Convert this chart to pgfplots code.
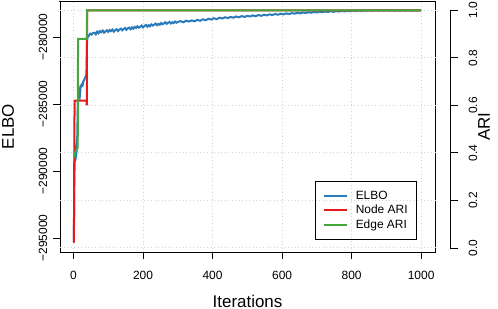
\documentclass[border=0pt]{standalone}
\usepackage{pgfplots}
\pgfplotsset{compat=1.18}
\usepackage{fontspec}
\setmainfont{Liberation Sans}
\definecolor{cblue}{HTML}{2B7BBA}
\definecolor{cred}{HTML}{E41A1C}
\definecolor{cgreen}{HTML}{43A63F}
\definecolor{cgrid}{HTML}{D3D3D3}
\begin{document}
\begin{tikzpicture}
\path[use as bounding box] (-60bp,-57bp) rectangle (438bp,252bp);
\begin{axis}[
  scale only axis, width=375bp, height=251bp,
  xmin=-38.96, xmax=1039.96,
  ymin=-296045, ymax=-277314,
  axis line style={line width=0.8bp},
  tick align=outside, major tick length=7bp,
  xtick pos=bottom, ytick pos=left,
  xtick={0,200,400,600,800,1000},
  ytick={-295000,-290000,-285000,-280000},
  yticklabels={−295000,−290000,−285000,−280000},
  /pgf/number format/assume math mode=true,
  /pgf/number format/1000 sep={},
  tick label style={font=\fontsize{12}{14}\selectfont},
  yticklabel style={rotate=90, anchor=center, yshift=10bp},
  xticklabel style={anchor=center, yshift=-16bp},
  major tick style={line width=0.8bp, black},
  xmajorgrids,
  grid style={cgrid, line width=0.9bp, dash pattern=on 1bp off 2.5bp},
  xlabel={Iterations}, ylabel={ELBO},
  label style={font=\fontsize{17}{20}\selectfont},
  xlabel style={at={(axis description cs:0.5,-0.1952)}, anchor=center},
  ylabel style={at={(axis description cs:-0.1387,0.5)}, anchor=center},
]
\addplot[cblue, line width=2bp] coordinates {
(1,-295350)(2,-291200)(3,-289600)(4,-289000)(5,-288700)(6,-288500)(7,-288650)(8,-288300)(9,-288450)(10,-288200)
(11,-287000)(12,-285500)(13,-284700)(14,-284400)(15,-284200)(16,-284300)(17,-284000)(18,-283900)(19,-284100)(20,-283800)
(22,-283700)(24,-283550)(26,-283600)(28,-283300)(30,-283250)(32,-283100)(34,-283000)(36,-282900)(37,-282800)(38,-281500)(39,-280300)(40,-280050)
(44,-279900)(48,-279750)(52,-279820)(56,-279700)(60,-279680)(64,-279800)(68,-279600)(72,-279720)(76,-279560)(80,-279640)
(84,-279520)(88,-279680)(92,-279580)(96,-279500)(100,-279620)(104,-279480)(108,-279560)(112,-279450)(116,-279600)(120,-279500)
(124,-279420)(128,-279560)(132,-279450)(136,-279380)(140,-279500)(144,-279400)(148,-279330)(152,-279460)(156,-279350)(160,-279300)
(164,-279420)(168,-279280)(172,-279380)(176,-279250)(180,-279330)(184,-279200)(188,-279300)(192,-279240)(196,-279150)(200,-279280)
(204,-279180)(208,-279100)(212,-279230)(216,-279120)(220,-279200)(224,-279060)(228,-279150)(232,-279080)(236,-279000)(240,-279120)
(244,-279020)(248,-279090)(252,-278960)(256,-279050)(260,-278980)(264,-278900)(268,-279020)(272,-278940)(276,-278880)(280,-278990)
(284,-278900)(288,-278960)(292,-278850)(296,-278930)(300,-278870)
(308,-278820)(316,-278900)(324,-278780)(332,-278850)(340,-278760)(348,-278830)(356,-278720)(364,-278790)(372,-278680)(380,-278750)
(388,-278640)(396,-278700)(404,-278600)(412,-278670)(420,-278560)(428,-278620)(436,-278530)(444,-278590)(452,-278500)(460,-278560)
(468,-278470)(476,-278530)(484,-278440)(492,-278500)(500,-278420)(508,-278470)(516,-278390)(524,-278450)(532,-278360)(540,-278420)
(548,-278340)(556,-278390)(564,-278310)(572,-278360)(580,-278280)(588,-278340)(596,-278260)(604,-278310)(612,-278240)(620,-278290)
(628,-278220)(636,-278260)(644,-278190)(652,-278240)(660,-278170)(668,-278210)(676,-278150)(684,-278190)(692,-278130)(700,-278170)
(708,-278110)(716,-278150)(724,-278100)(732,-278130)(740,-278080)(748,-278120)(756,-278070)(764,-278100)(772,-278050)(780,-278090)
(788,-278040)(796,-278070)(804,-278030)(812,-278060)(820,-278020)(828,-278050)(836,-278020)(844,-278040)(852,-278010)(860,-278040)
(868,-278010)(876,-278030)(884,-278010)(892,-278030)(900,-278008)(908,-278030)(916,-278010)(924,-278040)(932,-278010)(940,-278030)
(948,-278012)(956,-278030)(964,-278010)(972,-278040)(980,-278015)(988,-278030)(996,-278010)(1000,-278020)
};
\end{axis}
\begin{axis}[
  scale only axis, width=375bp, height=251bp,
  xmin=-38.96, xmax=1039.96,
  ymin=-0.0171, ymax=1.0391,
  clip=false,
  axis x line=none, axis y line*=right,
  y axis line style={draw=none},
  major tick style={draw=none},
  ytick={0,0.2,0.4,0.6,0.8,1.0},
  yticklabels={0.0,0.2,0.4,0.6,0.8,1.0},
  tick label style={font=\fontsize{12}{14}\selectfont},
  yticklabel style={rotate=90, anchor=center, yshift=-38bp},
  ymajorgrids,
  grid style={cgrid, line width=0.9bp, dash pattern=on 1bp off 2.5bp},
  ylabel={ARI},
  label style={font=\fontsize{17}{20}\selectfont},
  ylabel style={at={(axis description cs:1.1307,0.5)}, anchor=center},
  legend image code/.code={\draw[#1, line width=2bp] (0bp,0bp) -- (23bp,0bp);},
  legend style={at={(axis description cs:0.952,0.048)}, anchor=south east,
    fill=none, draw=black, line width=0.8bp, inner xsep=7bp, inner ysep=7.5bp,
    font=\fontsize{12}{14}\selectfont, row sep=0bp,
    nodes={inner xsep=2bp, inner ysep=1.5bp, text height=9bp, text depth=2.5bp},
    /tikz/every odd column/.append style={column sep=6bp}},
  legend cell align=left,
]
\addlegendimage{cblue, line width=2bp}
\addlegendentry{ELBO}
\addplot[cred, line width=2bp] coordinates {
(1,0.022)(2,0.35)(3,0.62)(37,0.62)(38,0.60)(39,1.0)(1000,1.0)
};
\addlegendentry{Node ARI}
\addplot[cgreen, line width=2bp] coordinates {
(1,0.38)(6,0.41)(12,0.42)(13,0.88)(38,0.88)(39,1.0)(1000,1.0)
};
\addlegendentry{Edge ARI}
\draw[line width=0.8bp] ([xshift=15bp]axis cs:1039.96,0) -- ([xshift=15bp]axis cs:1039.96,1);
\draw[line width=0.8bp] ([xshift=15bp]axis cs:1039.96,0) -- ([xshift=23bp]axis cs:1039.96,0);
\draw[line width=0.8bp] ([xshift=15bp]axis cs:1039.96,0.2) -- ([xshift=23bp]axis cs:1039.96,0.2);
\draw[line width=0.8bp] ([xshift=15bp]axis cs:1039.96,0.4) -- ([xshift=23bp]axis cs:1039.96,0.4);
\draw[line width=0.8bp] ([xshift=15bp]axis cs:1039.96,0.6) -- ([xshift=23bp]axis cs:1039.96,0.6);
\draw[line width=0.8bp] ([xshift=15bp]axis cs:1039.96,0.8) -- ([xshift=23bp]axis cs:1039.96,0.8);
\draw[line width=0.8bp] ([xshift=15bp]axis cs:1039.96,1) -- ([xshift=23bp]axis cs:1039.96,1);
\end{axis}
\end{tikzpicture}
\end{document}
